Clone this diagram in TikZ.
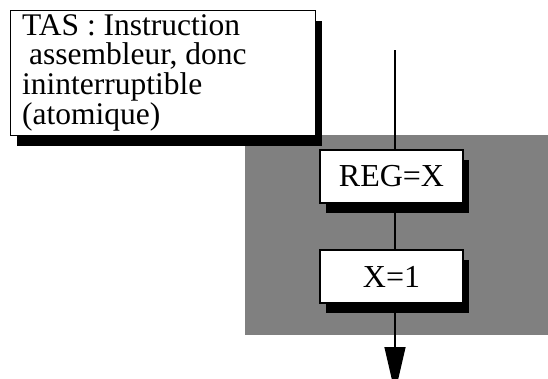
\documentclass[tikz,border=0pt]{standalone}
\usepackage{fontspec}
\setmainfont{Liberation Serif}
\usetikzlibrary{shadows,arrows.meta}
\definecolor{panelgray}{RGB}{128,128,128}
\tikzset{
  shadowbox/.style={draw=black, fill=white, line width=1.2pt, inner sep=0pt,
    general shadow={fill=black, shadow xshift=6pt, shadow yshift=-10pt}},
  stepbox/.style={shadowbox, minimum width=143pt, minimum height=53pt,
    font=\fontsize{32}{27}\selectfont},
  flow/.style={draw=black, line width=1.3pt},
}
\begin{document}
\begin{tikzpicture}[x=1pt,y=-1pt]
\useasboundingbox (0,0) rectangle (548,378);
\fill[panelgray] (245,135) rectangle (548,335);
\coordinate (top) at (395,50);
\coordinate (bot) at (395,393);
\draw[flow, -{Triangle[width=21pt,length=46pt]}] (top) -- (bot);
\node[shadowbox, minimum width=305pt, minimum height=125pt, anchor=north west] (tas) at (10,10) {};
\node[anchor=base west, inner sep=0pt, font=\fontsize{31.5}{27}\selectfont] (tastext) at (22,35)
  {\begin{tabular}[t]{@{}l@{}}TAS : Instruction\\ \hspace*{7pt}assembleur, donc\\ininterruptible\\(atomique)\end{tabular}};
\node[stepbox] (reg) at (391.5,176.5) {REG=X};
\node[stepbox] (xone) at (391.5,276.5) {X=1};
\end{tikzpicture}
\end{document}
